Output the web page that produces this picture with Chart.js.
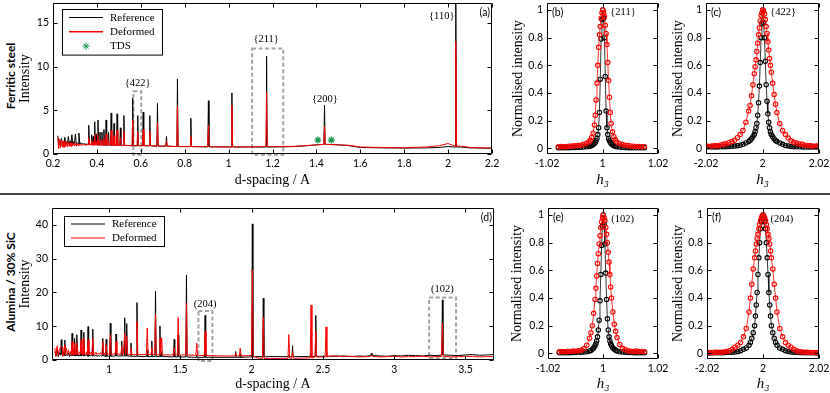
<!DOCTYPE html>
<html>
<head>
<meta charset="utf-8">
<script src="https://cdn.jsdelivr.net/npm/chart.js@4.4.1/dist/chart.umd.min.js"></script>
<style>
html, body { margin: 0; padding: 0; background: #fff; }
#fig { position: relative; width: 830px; height: 393px; overflow: hidden; }
#fig canvas { position: absolute; }
.row { position: absolute; left: 10px; font: bold 12px Lato, sans-serif; white-space: nowrap;
       transform: translate(-50%, -50%) rotate(-90deg); }
#sep { position: absolute; left: 0; top: 193px; width: 830px; height: 2px; background: #444; }
</style>
</head>
<body>
<div id="fig">
  <div class="row" style="top:76px">Ferritic steel</div>
  <div class="row" style="top:282px">Alumina / 30% SiC</div>
  <div id="sep"></div>
  <canvas id="pa"></canvas>
  <canvas id="pb"></canvas>
  <canvas id="pc"></canvas>
  <canvas id="pd"></canvas>
  <canvas id="pe"></canvas>
  <canvas id="pf"></canvas>
</div>
<script>
// ---- (a) ferritic steel pattern ----
const noiseAStart = 0.222, noiseAStep = 0.004;
const noiseARef = [2.1,1.0,1.6,0.9,1.8,1.1,1.5,1.0,1.9,1.1,1.4,1.2,2.0,1.1,1.5,1.2,2.2,1.1,1.4,1.2,2.3,1.1,1.3,1.2,2.4,1.1,1.3,1.2,1.2,1.15,1.2,1.1,1.15];
const noiseADef = [1.9,0.6,1.7,0.7,1.6,0.8,1.5,0.75,1.45,0.85,1.4,0.8,1.35,0.9,1.3,0.85,1.3,0.9,1.25,0.95,1.2,0.9,1.2,0.95,1.15,1.0,1.15,0.95,1.12,1.0,1.1,1.0,1.08];
const bgAd = [0.36,0.40,0.45,0.50,0.60,0.70,0.80,0.90,1.00,1.10,1.20,1.30,1.36,1.40,1.45,1.50,1.55,1.60,1.70,1.80,1.90,1.96,2.00,2.06,2.10,2.20];
const bgARef = [1.10,1.05,1.00,1.00,0.95,0.90,0.85,0.82,0.80,0.80,0.80,0.85,0.95,1.05,1.10,1.05,0.95,0.75,0.70,0.68,0.70,0.75,0.85,0.80,0.70,0.65];
const bgADef = [1.05,1.00,1.00,0.98,0.95,0.90,0.85,0.83,0.82,0.82,0.85,0.88,0.98,1.05,1.10,1.05,1.00,0.80,0.75,0.72,0.80,0.95,1.20,0.90,0.75,0.68];
const peakAd = [0.364,0.376,0.383,0.390,0.397,0.405,0.414,0.423,0.432,0.442,0.453,0.465,0.478,0.492,0.507,0.523,0.563,0.586,0.611,0.641,0.676,0.717,0.767,0.828,0.908,1.015,1.173,1.437,2.035];
const peakARef = [3.3,2.2,2.0,3.7,2.3,3.9,2.5,2.5,2.8,3.9,2.5,4.7,3.5,4.6,3.0,4.4,6.4,4.4,4.8,4.4,5.8,2.0,8.6,4.1,6.1,7.0,11.2,5.6,19.0];
const peakADef = [1.9,1.5,1.4,2.2,1.5,2.3,1.6,1.6,1.8,2.3,1.6,2.7,2.1,2.7,1.9,2.6,3.9,2.6,2.8,2.6,3.6,1.5,5.5,2.0,3.3,5.6,7.1,3.2,12.9];
const tdsD = [1.407, 1.468];
const tdsI = [1.6, 1.6];
const ticksAx = [0.2,0.4,0.6,0.8,1,1.2,1.4,1.6,1.8,2,2.2];
const labelsAx = ['0.2','0.4','0.6','0.8','1','1.2','1.4','1.6','1.8','2','2.2'];
const ticksAy = [0,5,10,15];
const labelsAy = ['0','5','10','15'];
const boxesA = [[0.566,0.602,-0.1,7.2],[1.107,1.249,-0.1,12.1]];
const tagsA = ['{422}','{211}','{200}','{110}'];
const tagXA = [0.586,1.171,1.439,1.971];
const tagYA = [8.1,13.1,6.3,15.8];

// ---- (d) alumina / SiC pattern ----
const noiseDStart = 0.62, noiseDStep = 0.008;
const noiseDRef = [2.5,1.2,3.2,1.0,2.2,1.4,1.8,1.1,2.5,1.3,1.7,1.2,2.0,1.0,1.6,1.3,1.9,1.2,1.5,1.3,1.8,1.1,1.5,1.2,1.7,1.2,1.4,1.3,1.6,1.1,1.4,1.2,1.5,1.2,1.3,1.2,1.4,1.1,1.3,1.2,1.3,1.1,1.3,1.2,1.2,1.1,1.2,1.1];
const noiseDDef = [3.5,1.0,4.2,1.5,3.0,0.8,3.8,1.2,2.8,1.5,3.5,1.8,3.0,1.4,2.6,1.6,3.2,1.5,2.5,1.7,2.9,1.6,2.4,1.8,2.7,1.5,2.3,1.7,2.5,1.6,2.2,1.8,2.4,1.5,2.1,1.7,2.3,1.6,2.0,1.7,2.2,1.5,1.9,1.7,2.0,1.6,1.9,1.7];
const bgDd = [1.05,1.10,1.20,1.30,1.40,1.50,1.60,1.70,1.80,1.90,1.98,2.03,2.10,2.20,2.30,2.40,2.50,2.56];
const bgDRef = [1.2,1.2,1.1,1.0,1.0,0.9,0.8,0.8,0.8,0.8,0.9,1.0,1.0,1.0,1.0,1.05,1.1,1.1];
const bgDDef = [1.8,1.7,1.6,1.6,1.5,1.5,1.4,1.3,1.2,1.2,1.3,0.7,0.45,0.45,0.5,0.6,0.9,1.2];
const tailDStart = 2.6, tailDStep = 0.05;
const tailDRef = [1.1,1.2,1.0,1.2,1.1,1.3,1.2,1.1,1.3,1.2,1.4,1.3,1.2,1.4,1.3,1.5,1.4,1.3,1.5,1.6,1.4,1.5,1.6];
const tailDDef = [1.2,1.0,1.1,0.9,1.0,1.1,0.9,1.0,1.1,0.9,1.0,1.0,1.1,0.9,1.0,1.1,0.9,1.0,1.0,1.1,0.9,1.0,1.0];
const peakDd = [0.665,0.690,0.741,0.760,0.774,0.804,0.823,0.853,0.886,0.956,0.980,1.009,1.049,1.089,1.110,1.124,1.154,1.196,1.268,1.300,1.326,1.357,1.369,1.457,1.485,1.543,1.615,1.674,1.888,1.920,2.005,2.082,2.261,2.287,2.417,2.450,2.522,2.840,3.338];
const peakDRef = [6.0,5.9,7.9,6.5,7.5,8.9,8.2,9.9,9.1,6.4,6.1,10.9,7.7,5.6,12.5,10.8,5.0,17.0,3.0,5.6,20.3,10.1,2.5,6.1,7.4,25.2,1.5,13.2,2.5,1.8,40.3,18.3,1.5,4.2,2.0,13.2,1.2,2.0,17.8];
const peakDDef = [4.0,4.5,5.5,5.0,5.0,6.0,6.5,6.0,6.5,5.5,4.5,7.5,5.5,4.0,8.0,7.0,3.5,11.4,9.5,3.5,13.6,6.5,6.6,3.5,12.6,16.8,5.0,8.5,2.0,3.5,26.7,12.6,7.5,2.5,16.3,8.5,9.8,1.5,10.9];
const ticksDx = [1,1.5,2,2.5,3,3.5];
const labelsDx = ['1','1.5','2','2.5','3','3.5'];
const ticksDy = [0,10,20,30,40];
const labelsDy = ['0','10','20','30','40'];
const boxesD = [[1.627,1.725,-0.3,14.5],[3.245,3.434,0.5,18.5]];
const tagsD = ['(204)','(102)'];
const tagXD = [1.674,3.338];
const tagYD = [16.6,21.0];

// ---- (b) (c) (e) (f) normalised line profiles, offsets from peak centre ----
const dh = [-0.020,-0.019,-0.018,-0.017,-0.016,-0.015,-0.014,-0.013,-0.012,-0.011,-0.010,-0.009,-0.008,-0.007,-0.006,-0.005,
  -0.0045,-0.004,-0.0035,-0.003,-0.0027,-0.0024,-0.0021,-0.0018,-0.0015,-0.0012,-0.0009,-0.0006,-0.0003,0,
  0.0003,0.0006,0.0009,0.0012,0.0015,0.0018,0.0021,0.0024,0.0027,0.003,0.0035,0.004,0.0045,
  0.005,0.006,0.007,0.008,0.009,0.010,0.011,0.012,0.013,0.014,0.015,0.016,0.017,0.018,0.019,0.020];
const refB = [null,null,null,null,0.005,0.005,0.006,0.006,0.006,0.007,0.007,0.008,0.009,0.010,0.012,0.014,
  0.017,0.021,0.027,0.036,0.045,0.056,0.072,0.10,0.15,0.26,0.50,0.79,0.93,1.0,
  0.94,0.80,0.52,0.27,0.15,0.10,0.07,0.055,0.045,0.035,0.027,0.020,0.016,
  0.013,0.010,0.008,0.007,0.006,0.006,0.005,0.005,0.005,0.005,0.005,null,null,null,null,null];
const defB = [null,null,null,null,0.013,0.014,0.013,0.015,0.016,0.017,0.019,0.021,0.024,0.028,0.036,0.046,
  0.06,0.08,0.11,0.17,0.24,0.35,0.47,0.60,0.73,0.82,0.88,0.94,0.98,1.0,
  0.98,0.95,0.89,0.83,0.75,0.62,0.49,0.37,0.26,0.18,0.12,0.085,0.062,
  0.047,0.036,0.029,0.024,0.021,0.018,0.016,0.015,0.014,0.013,0.013,null,null,null,null,null];
const refC = [0.010,0.012,0.010,0.011,0.010,0.012,0.013,0.013,0.014,0.016,0.017,0.020,0.024,0.030,0.040,0.050,
  0.06,0.07,0.085,0.10,0.12,0.15,0.18,0.24,0.33,0.45,0.62,0.80,0.90,1.0,
  0.91,0.80,0.63,0.46,0.34,0.25,0.19,0.15,0.12,0.10,0.085,0.07,0.06,
  0.05,0.04,0.03,0.022,0.018,0.015,0.013,0.012,0.012,0.011,0.010,0.010,0.011,0.010,0.010,0.012];
const defC = [0.020,0.015,0.017,0.022,0.020,0.025,0.030,0.034,0.042,0.050,0.060,0.078,0.10,0.13,0.19,0.27,
  0.31,0.38,0.46,0.54,0.59,0.64,0.70,0.76,0.82,0.87,0.92,0.96,0.98,1.0,
  0.99,0.97,0.93,0.88,0.83,0.77,0.71,0.65,0.60,0.55,0.47,0.39,0.32,
  0.26,0.18,0.13,0.10,0.075,0.055,0.045,0.040,0.033,0.030,0.024,0.022,0.020,0.016,0.018,0.025];
const refE = [null,null,null,null,0.005,0.006,0.005,0.006,0.006,0.007,0.007,0.008,0.009,0.010,0.012,0.018,
  0.022,0.03,0.04,0.055,0.07,0.09,0.12,0.17,0.24,0.38,0.57,0.78,0.92,1.0,
  0.93,0.79,0.58,0.39,0.25,0.17,0.12,0.09,0.07,0.055,0.04,0.03,0.023,
  0.018,0.012,0.010,0.008,0.007,0.007,0.006,0.006,0.005,0.006,0.005,null,null,null,null,null];
const defE = [null,null,null,null,0.012,0.015,0.013,0.016,0.014,0.017,0.016,0.019,0.024,0.035,0.06,0.11,
  0.15,0.20,0.29,0.39,0.47,0.56,0.65,0.72,0.79,0.85,0.91,0.95,0.98,1.0,
  0.98,0.96,0.91,0.86,0.80,0.73,0.66,0.57,0.48,0.40,0.30,0.21,0.16,
  0.115,0.065,0.037,0.026,0.020,0.016,0.015,0.017,0.014,0.015,0.013,null,null,null,null,null];
const refF = [0.004,0.004,0.005,0.005,0.005,0.006,0.006,0.007,0.008,0.009,0.010,0.015,0.020,0.030,0.040,0.060,
  0.08,0.11,0.15,0.20,0.27,0.35,0.44,0.57,0.69,0.80,0.90,0.95,0.98,1.0,
  0.98,0.95,0.90,0.80,0.69,0.57,0.44,0.35,0.27,0.20,0.15,0.11,0.08,
  0.06,0.04,0.03,0.02,0.015,0.010,0.009,0.008,0.007,0.006,0.006,0.005,0.005,0.005,0.004,0.004];
const defF = [0.006,0.007,0.006,0.008,0.008,0.009,0.011,0.015,0.020,0.030,0.045,0.060,0.080,0.12,0.18,0.30,
  0.40,0.50,0.61,0.69,0.74,0.79,0.83,0.86,0.90,0.93,0.96,0.98,0.99,1.0,
  0.99,0.98,0.96,0.93,0.90,0.86,0.83,0.79,0.74,0.69,0.61,0.50,0.40,
  0.30,0.18,0.12,0.08,0.06,0.045,0.03,0.02,0.015,0.011,0.009,0.008,0.007,0.007,0.006,0.006];
const centreB = 1.0001, centreC = 2.0001, centreE = 1.0001, centreF = 2.0;
const ticksNy = [0,0.2,0.4,0.6,0.8,1];
const labelsNy = ['0','0.2','0.4','0.6','0.8','1'];
const ticksH1 = [0.98,1,1.02];
const labelsH1 = ['-1.02','1','1.02'];
const ticksH2 = [1.98,2,2.02];
const labelsH2 = ['-2.02','2','2.02'];

Chart.defaults.font.family = 'Lato, sans-serif';
Chart.defaults.font.size = 10.5;
Chart.defaults.color = '#000';

function grid(start, step, n) {
  return Array.from({length: n}, (_, i) => +(start + i * step).toFixed(4));
}

// background samples plus a narrow spike for each listed peak
function spectrum(bx, by, px, py, w) {
  const pts = [];
  bx.forEach((x, i) => { if (!px.some(p => Math.abs(p - x) < w)) pts.push({x, y: by[i]}); });
  px.forEach((p, i) => {
    let j = 0;
    bx.forEach((x, k) => { if (Math.abs(x - p) < Math.abs(bx[j] - p)) j = k; });
    pts.push({x: p - w, y: by[j]}, {x: p, y: py[i]}, {x: p + w, y: by[j]});
  });
  return pts.sort((m, n) => m.x - n.x);
}

function profile(centre, vals) {
  return dh.map((d, i) => ({x: centre + d, y: vals[i]})).filter(p => p.y !== null);
}

function star(ctx, cx, cy, r) {
  const q = r * 0.707;
  ctx.beginPath();
  ctx.moveTo(cx - r, cy); ctx.lineTo(cx + r, cy);
  ctx.moveTo(cx, cy - r); ctx.lineTo(cx, cy + r);
  ctx.moveTo(cx - q, cy - q); ctx.lineTo(cx + q, cy + q);
  ctx.moveTo(cx - q, cy + q); ctx.lineTo(cx + q, cy - q);
  ctx.stroke();
}

const framePlugin = {
  id: 'frame',
  beforeDatasetsDraw(chart, args, o) {
    const {ctx, scales: {x, y}} = chart;
    ctx.save();
    ctx.setLineDash([4, 2.5]);
    ctx.strokeStyle = '#a3a3a3';
    ctx.lineWidth = 2;
    (o.boxes || []).forEach(b => {
      const x0 = x.getPixelForValue(b[0]), x1 = x.getPixelForValue(b[1]);
      const y0 = y.getPixelForValue(b[2]), y1 = y.getPixelForValue(b[3]);
      ctx.strokeRect(x0, y1, x1 - x0, y0 - y1);
    });
    ctx.restore();
  },
  afterDraw(chart, args, o) {
    const {ctx, chartArea: a, scales: {x, y}} = chart;
    const L = a.left + 0.5, R = a.right - 0.5, T = a.top + 0.5, B = a.bottom - 0.5;
    ctx.save();
    ctx.strokeStyle = '#000';
    ctx.lineWidth = 1;
    ctx.beginPath();
    ctx.rect(L, T, R - L, B - T);
    const t = 4;
    x.ticks.forEach(tk => {
      const p = Math.round(x.getPixelForValue(tk.value)) + 0.5;
      ctx.moveTo(p, B); ctx.lineTo(p, B - t);
      ctx.moveTo(p, T); ctx.lineTo(p, T + t);
    });
    y.ticks.forEach(tk => {
      const p = Math.round(y.getPixelForValue(tk.value)) + 0.5;
      ctx.moveTo(L, p); ctx.lineTo(L + t, p);
      ctx.moveTo(R, p); ctx.lineTo(R - t, p);
    });
    ctx.stroke();

    // peak tags
    ctx.fillStyle = '#000';
    ctx.textAlign = 'center';
    ctx.textBaseline = 'middle';
    ctx.font = '10.5px "Liberation Serif", serif';
    (o.tags || []).forEach((s, i) => {
      ctx.fillText(s, x.getPixelForValue(o.tagX[i]), y.getPixelForValue(o.tagY[i]));
    });

    // panel letter
    ctx.font = '10.5px Lato, sans-serif';
    if (o.letterRight) {
      ctx.textAlign = 'right';
      ctx.fillText(o.letter, a.right - 2, a.top + 10);
    } else {
      ctx.textAlign = 'left';
      ctx.fillText(o.letter, a.left + 5, a.top + 10);
    }

    // boxed legend
    if (o.legend) {
      const g = o.legend;
      const items = chart.data.datasets.filter(d => d.label);
      const x0 = a.left + g.dx, y0 = a.top + g.dy;
      const h = g.first * 2 + (items.length - 1) * g.step;
      ctx.fillStyle = '#fff';
      ctx.fillRect(x0, y0, g.w, h);
      ctx.strokeStyle = '#000';
      ctx.strokeRect(x0 + 0.5, y0 + 0.5, g.w, h);
      ctx.font = '11px "Liberation Serif", serif';
      ctx.textAlign = 'left';
      items.forEach((d, i) => {
        const yy = y0 + g.first + i * g.step;
        ctx.strokeStyle = d.borderColor;
        if (d.showLine === false) {
          ctx.lineWidth = 1;
          star(ctx, x0 + 24, yy, 3.5);
        } else {
          ctx.lineWidth = d.legendWidth || 1;
          ctx.beginPath();
          ctx.moveTo(x0 + 7, yy); ctx.lineTo(x0 + 41, yy);
          ctx.stroke();
        }
        ctx.fillStyle = '#000';
        ctx.fillText(d.label, x0 + 48, yy + 0.5);
      });
    }
    ctx.restore();
  }
};

const serif = {family: '"Liberation Serif", serif', size: 14};
const italicH = {family: '"Liberation Serif", serif', size: 15, style: 'italic'};

function panel(id, box, datasets, xs, ys, frame) {
  const cv = document.getElementById(id);
  cv.width = box.w; cv.height = box.h;
  cv.style.left = box.x + 'px'; cv.style.top = box.y + 'px';
  return new Chart(cv, {
    type: 'line',
    data: {datasets},
    options: {
      responsive: false,
      animation: false,
      devicePixelRatio: 1,
      layout: {padding: {top: 3, right: box.padR, left: 0, bottom: 0}, autoPadding: false},
      plugins: {legend: {display: false}, tooltip: {enabled: false}, frame},
      elements: {line: {tension: 0}},
      scales: {
        x: {
          type: 'linear', min: xs.min, max: xs.max,
          grid: {display: false, drawTicks: false}, border: {display: false},
          afterBuildTicks: s => { s.ticks = xs.ticks.map(v => ({value: v})); },
          afterFit: s => { s.height = box.xh; s.paddingLeft = 0; s.paddingRight = 0; },
          ticks: {callback: (v, i) => xs.labels[i], padding: 3, maxRotation: 0, autoSkip: false},
          title: {display: true, text: xs.title, font: xs.font, padding: 0, color: '#000'}
        },
        y: {
          type: 'linear', min: ys.min, max: ys.max,
          grid: {display: false, drawTicks: false}, border: {display: false},
          afterBuildTicks: s => { s.ticks = ys.ticks.map(v => ({value: v})); },
          afterFit: s => { s.width = box.yw; s.paddingTop = 0; s.paddingBottom = 0; },
          ticks: {callback: (v, i) => ys.labels[i], padding: 4, autoSkip: false},
          title: {display: true, text: ys.title, font: serif, padding: 0, color: '#000'}
        }
      }
    },
    plugins: [framePlugin]
  });
}

const lineRef = {borderColor: '#000000', borderWidth: 1, pointRadius: 0, order: 2};
const lineDef = {borderColor: '#ff0000', borderWidth: 1, pointRadius: 0, order: 1, legendWidth: 1.5};
const dotRef = {borderColor: '#000000', borderWidth: 0.8, pointRadius: 2.2, pointBorderWidth: 1.1,
  pointBorderColor: '#000000', pointBackgroundColor: 'rgba(0,0,0,0)', order: 2};
const dotDef = {borderColor: '#ff0000', borderWidth: 0.8, pointRadius: 2.2, pointBorderWidth: 1.1,
  pointBorderColor: '#ff0000', pointBackgroundColor: 'rgba(0,0,0,0)', order: 1};

// (a)
const bgAx = grid(noiseAStart, noiseAStep, noiseARef.length).concat(bgAd);
panel('pa', {x: 17, y: 0, w: 487, h: 189, yw: 36, xh: 35, padR: 12}, [
  Object.assign({label: 'Reference', data: spectrum(bgAx, noiseARef.concat(bgARef), peakAd, peakARef, 0.0025)}, lineRef),
  Object.assign({label: 'Deformed', data: spectrum(bgAx, noiseADef.concat(bgADef), peakAd, peakADef, 0.0035)}, lineDef),
  {label: 'TDS', data: tdsD.map((d, i) => ({x: d, y: tdsI[i]})), showLine: false, pointStyle: 'star',
   pointRadius: 3.5, pointBorderWidth: 1.3, borderColor: '#1a9850', pointBorderColor: '#1a9850', order: 0}
], {min: 0.2, max: 2.2, ticks: ticksAx, labels: labelsAx, title: 'd-spacing / A', font: serif},
   {min: 0, max: 17.3, ticks: ticksAy, labels: labelsAy, title: 'Intensity'},
   {boxes: boxesA, tags: tagsA, tagX: tagXA, tagY: tagYA, letter: '(a)', letterRight: true,
    legend: {dx: 9, dy: 6, w: 100, first: 8.5, step: 14.3}});

// (b)
panel('pb', {x: 510, y: 0, w: 160, h: 189, yw: 37, xh: 35, padR: 12}, [
  Object.assign({data: profile(centreB, refB)}, dotRef),
  Object.assign({data: profile(centreB, defB)}, dotDef)
], {min: 0.98, max: 1.02, ticks: ticksH1, labels: labelsH1, title: 'h₃', font: italicH},
   {min: -0.04, max: 1.05, ticks: ticksNy, labels: labelsNy, title: 'Normalised intensity'},
   {tags: ['{211}'], tagX: [1.0074], tagY: [0.98], letter: '(b)'});

// (c)
panel('pc', {x: 670, y: 0, w: 160, h: 189, yw: 36, xh: 35, padR: 11}, [
  Object.assign({data: profile(centreC, refC)}, dotRef),
  Object.assign({data: profile(centreC, defC)}, dotDef)
], {min: 1.98, max: 2.02, ticks: ticksH2, labels: labelsH2, title: 'h₃', font: italicH},
   {min: -0.04, max: 1.05, ticks: ticksNy, labels: labelsNy, title: 'Normalised intensity'},
   {tags: ['{422}'], tagX: [2.0073], tagY: [0.98], letter: '(c)'});

// (d)
const bgDx = grid(noiseDStart, noiseDStep, noiseDRef.length).concat(bgDd, grid(tailDStart, tailDStep, tailDRef.length));
panel('pd', {x: 17, y: 205, w: 489, h: 188, yw: 35, xh: 33, padR: 12}, [
  Object.assign({label: 'Reference', data: spectrum(bgDx, noiseDRef.concat(bgDRef, tailDRef), peakDd, peakDRef, 0.004)}, lineRef),
  Object.assign({label: 'Deformed', data: spectrum(bgDx, noiseDDef.concat(bgDDef, tailDDef), peakDd, peakDDef, 0.006)}, lineDef, {legendWidth: 1})
], {min: 0.6, max: 3.7, ticks: ticksDx, labels: labelsDx, title: 'd-spacing / A', font: serif},
   {min: 0, max: 45, ticks: ticksDy, labels: labelsDy, title: 'Intensity'},
   {boxes: boxesD, tags: tagsD, tagX: tagXD, tagY: tagYD, letter: '(d)', letterRight: true,
    legend: {dx: 12, dy: 8, w: 100, first: 8, step: 14}});

// (e)
panel('pe', {x: 509, y: 205, w: 161, h: 188, yw: 39, xh: 34, padR: 12}, [
  Object.assign({data: profile(centreE, refE)}, dotRef),
  Object.assign({data: profile(centreE, defE)}, dotDef)
], {min: 0.98, max: 1.02, ticks: ticksH1, labels: labelsH1, title: 'h₃', font: italicH},
   {min: -0.04, max: 1.05, ticks: ticksNy, labels: labelsNy, title: 'Normalised intensity'},
   {tags: ['(102)'], tagX: [1.0071], tagY: [0.97], letter: '(e)'});

// (f)
panel('pf', {x: 670, y: 205, w: 160, h: 188, yw: 37, xh: 34, padR: 11}, [
  Object.assign({data: profile(centreF, refF)}, dotRef),
  Object.assign({data: profile(centreF, defF)}, dotDef)
], {min: 1.98, max: 2.02, ticks: ticksH2, labels: labelsH2, title: 'h₃', font: italicH},
   {min: -0.04, max: 1.05, ticks: ticksNy, labels: labelsNy, title: 'Normalised intensity'},
   {tags: ['(204)'], tagX: [2.0067], tagY: [0.97], letter: '(f)'});
</script>
</body>
</html>
